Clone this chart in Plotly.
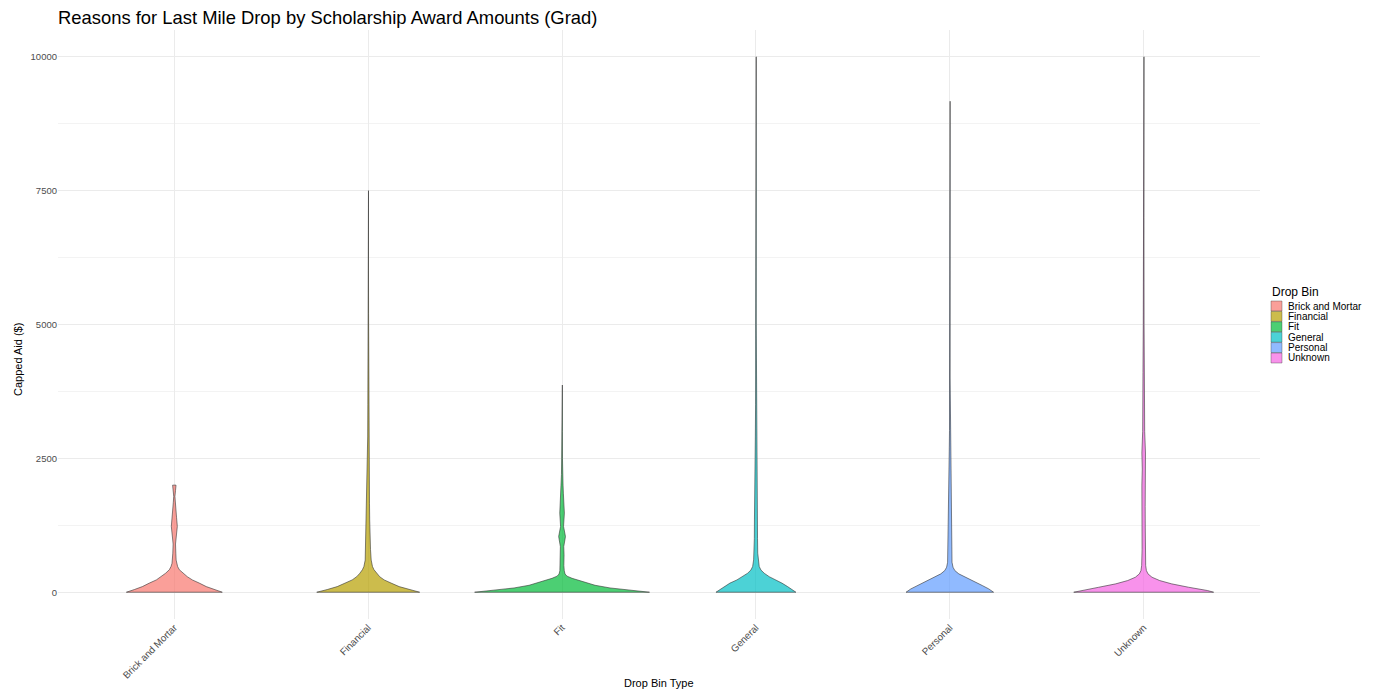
import plotly.graph_objects as go

# ---------------- data ----------------
categories = ["Brick and Mortar", "Financial", "Fit", "General", "Personal", "Unknown"]
colors = ["#F8766D", "#B79F00", "#00BA38", "#00BFC4", "#619CFF", "#F564E3"]

# violin profiles: capped aid levels ($) and relative density (violin half-width)
brick_y = [0, 50, 105, 170, 230, 290, 355, 420, 480, 540, 600, 730, 900, 1050, 1230, 1400, 1550, 1680, 1790, 1900, 2000]
brick_d = [48, 40, 32, 25, 18, 13, 8.7, 5, 3.3, 2.3, 1.8, 1.5, 1.2, 2.0, 3.0, 2.2, 1.5, 1.0, 0.6, 1.2, 1.7]

financial_y = [0, 50, 105, 170, 230, 290, 355, 420, 480, 600, 800, 1040, 1350, 1664, 1975, 2290, 2600, 2900, 3500, 4200, 5200, 6000, 7500]
financial_d = [51.5, 41, 31, 23, 16, 11.5, 8.3, 5.8, 4.3, 3.0, 2.3, 1.8, 1.5, 1.3, 1.2, 1.0, 0.8, 0.5, 0.35, 0.45, 0.4, 0.3, 0.3]

fit_y = [0, 40, 80, 130, 200, 260, 300, 340, 400, 500, 700, 853, 1040, 1228, 1477, 1664, 1850, 2000, 2200, 2500, 3000, 3870]
fit_d = [87.5, 65, 48, 33, 20, 10, 5, 3, 2.2, 1.8, 2.0, 1.7, 3.4, 1.5, 2.3, 1.5, 1.3, 1.0, 0.6, 0.4, 0.3, 0.3]

general_y = [0, 43, 105, 170, 230, 290, 355, 415, 480, 604, 730, 1000, 1350, 1975, 2600, 2900, 3500, 5000, 7500, 10000]
general_d = [40, 37, 31.7, 26, 19, 13.3, 8.3, 5, 3.3, 2.3, 1.8, 1.6, 1.5, 1.3, 0.9, 0.6, 0.35, 0.3, 0.3, 0.3]

personal_y = [0, 62, 125, 218, 280, 343, 405, 467, 560, 840, 1150, 1460, 1775, 2090, 2400, 2710, 3020, 4000, 6000, 9170]
personal_d = [43.8, 39, 32.5, 22.5, 16, 9, 5, 3.2, 2.2, 2.0, 1.8, 1.5, 1.2, 1.0, 0.8, 0.5, 0.3, 0.3, 0.3, 0.3]

unknown_y = [0, 31, 93, 156, 218, 280, 343, 405, 500, 800, 1200, 1600, 2000, 2300, 2600, 3000, 3500, 4100, 5000, 7000, 10000]
unknown_d = [70, 64, 45, 28, 16, 8.3, 4.3, 2.7, 2.0, 1.6, 1.6, 1.5, 1.8, 1.4, 1.8, 1.0, 0.8, 0.7, 0.4, 0.3, 0.3]

y_ticks = [0, 2500, 5000, 7500, 10000]

profiles = [
    (brick_y, brick_d),
    (financial_y, financial_d),
    (fit_y, fit_d),
    (general_y, general_d),
    (personal_y, personal_d),
    (unknown_y, unknown_d),
]

# ---------------- styling / layout geometry ----------------
WIDTH_SCALE = 1 / 194.0  # density units -> category-axis units
FONT = "Liberation Sans, Arial, sans-serif"
PAGE_OFF = 8            # browser body margin
FIG_W, FIG_H = 1374 - PAGE_OFF, 692 - PAGE_OFF
PLOT_L, PLOT_R, PLOT_T, PLOT_B = 58, 1260, 30, 619   # page pixels of the plotting panel
M_L = PLOT_L - PAGE_OFF
M_T = PLOT_T - PAGE_OFF
M_R = (PAGE_OFF + FIG_W) - PLOT_R
M_B = (PAGE_OFF + FIG_H) - PLOT_B


def px(x):
    return (x - PLOT_L) / (PLOT_R - PLOT_L)


def py(y):
    return (PLOT_B - y) / (PLOT_B - PLOT_T)


def hex_to_rgba(h, a):
    h = h.lstrip("#")
    return "rgba(%d,%d,%d,%.2f)" % (int(h[0:2], 16), int(h[2:4], 16), int(h[4:6], 16), a)


fig = go.Figure()
for i, (cat, col, (ys, ds)) in enumerate(zip(categories, colors, profiles)):
    c = i + 1
    hw = [d * WIDTH_SCALE for d in ds]
    xs = [c + w for w in hw] + [c - w for w in reversed(hw)]
    yy = list(ys) + list(reversed(ys))
    xs.append(xs[0])
    yy.append(yy[0])
    fig.add_trace(go.Scatter(
        x=xs, y=yy, mode="lines", fill="toself",
        fillcolor=hex_to_rgba(col, 0.7),
        line=dict(color="rgba(51,51,51,0.85)", width=0.7),
        name=cat, hoveron="fills", showlegend=False,
    ))

# legend (ggplot-style compact key)
shapes = []
annotations = [
    dict(text="Drop Bin", xref="paper", yref="paper", x=px(1270), y=py(292),
         xanchor="left", yanchor="middle", showarrow=False,
         font=dict(size=12, color="#000000", family=FONT)),
]
row0, row_h = 306, 10.4
for i, (cat, col) in enumerate(zip(categories, colors)):
    yc = row0 + i * row_h
    shapes.append(dict(
        type="rect", xref="paper", yref="paper",
        x0=px(1271), x1=px(1282), y0=py(yc + 5), y1=py(yc - 5),
        fillcolor=hex_to_rgba(col, 0.7), line=dict(color="rgba(51,51,51,0.6)", width=0.6),
    ))
    annotations.append(dict(
        text=cat, xref="paper", yref="paper", x=px(1286), y=py(yc),
        xanchor="left", yanchor="middle", showarrow=False,
        font=dict(size=10, color="#000000", family=FONT),
    ))

annotations += [
    dict(text="Capped Aid ($)", xref="paper", yref="paper", x=px(18), y=py(360),
         textangle=-90, showarrow=False, font=dict(size=11, color="#000000", family=FONT),
         xanchor="center", yanchor="middle"),
    dict(text="Drop Bin Type", xref="paper", yref="paper", x=px(659), y=py(683),
         showarrow=False, font=dict(size=11, color="#000000", family=FONT),
         xanchor="center", yanchor="middle"),
]

fig.update_layout(
    width=FIG_W, height=FIG_H,
    paper_bgcolor="white", plot_bgcolor="white",
    margin=dict(l=M_L, r=M_R, t=M_T, b=M_B),
    font=dict(family=FONT, color="#000000"),
    showlegend=False,
    title=dict(
        text="Reasons for Last Mile Drop by Scholarship Award Amounts (Grad)",
        font=dict(size=18.4, color="#000000", family=FONT),
        xref="paper", x=0, xanchor="left",
        yref="container", y=1 - (18 - PAGE_OFF) / FIG_H, yanchor="middle",
    ),
    xaxis=dict(
        range=[0.4, 6.6], tickvals=list(range(1, len(categories) + 1)), ticktext=categories,
        tickangle=-45, showgrid=True, gridcolor="#EBEBEB", gridwidth=1,
        zeroline=False, showline=False, ticks="", automargin=False,
        tickfont=dict(size=9.8, color="#4D4D4D", family=FONT),
    ),
    yaxis=dict(
        range=[-500, 10500], tickvals=y_ticks, ticktext=[str(v) for v in y_ticks],
        showgrid=True, gridcolor="#EBEBEB", gridwidth=1,
        minor=dict(tickvals=[1250, 3750, 6250, 8750], showgrid=True, gridcolor="#F3F3F3", gridwidth=0.6),
        zeroline=False, showline=False, ticks="", automargin=False,
        tickfont=dict(size=9.5, color="#4D4D4D", family=FONT),
    ),
    shapes=shapes,
    annotations=annotations,
)

fig.write_html("out.html")
